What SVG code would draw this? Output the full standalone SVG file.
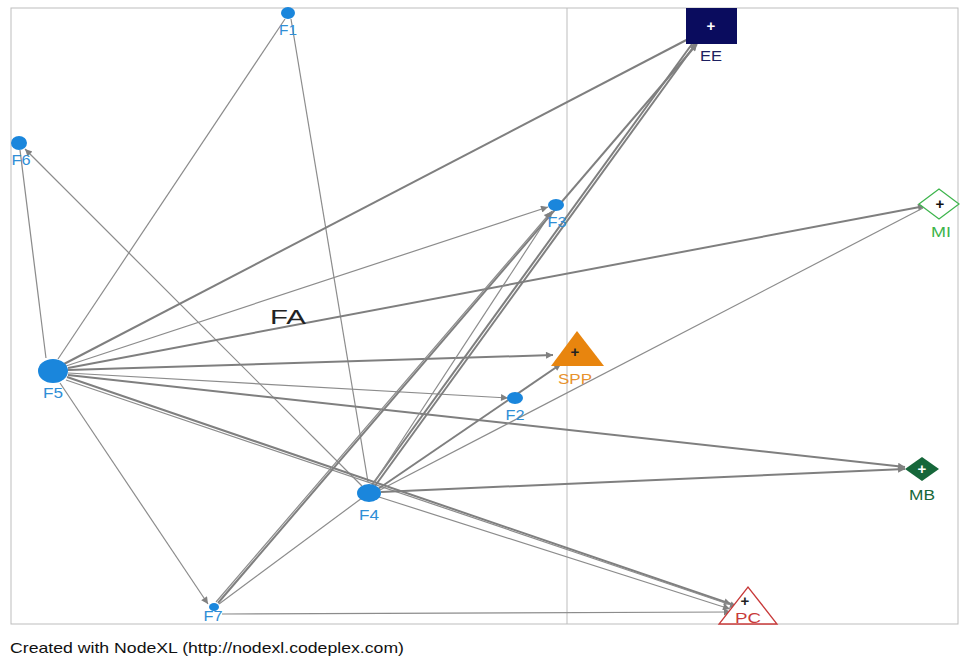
<svg xmlns="http://www.w3.org/2000/svg" width="960" height="657" viewBox="0 0 960 657">
  <style>
    .edge { stroke: #8c8c8c; stroke-width: 1.2; fill: none; }
    .thick { stroke-width: 2; stroke: #7f7f7f; }
    .arr { marker-end: url(#ah); }
    .lbl { font-family: "Liberation Sans", Arial, sans-serif; font-size: 15px; text-anchor: middle; }
    .blue { fill: #1a86dc; }
    .plus { font-family: "Liberation Sans", Arial, sans-serif; font-size: 15px; font-weight: bold; text-anchor: middle; }
  </style>
  <defs>
    <marker id="ah" viewBox="0 0 10 10" refX="10" refY="5" markerWidth="9" markerHeight="7" markerUnits="userSpaceOnUse" orient="auto">
      <path d="M0,0 L10,5 L0,10 z" fill="#808080"/>
    </marker>
  </defs>
  <rect x="0" y="0" width="960" height="657" fill="#ffffff"/>

  <!-- frame -->
  <rect x="11" y="8" width="947" height="616" fill="none" stroke="#bdbdbd" stroke-width="1"/>
  <line x1="567" y1="8" x2="567" y2="624" stroke="#bdbdbd" stroke-width="1"/>

  <g id="connectors">
    <!-- F1 edges -->
    <line class="edge" x1="285" y1="19" x2="58" y2="359"/>
    <line class="edge" x1="291" y1="19" x2="368" y2="482"/>
    <!-- F6 edges -->
    <line class="edge" x1="20" y1="150" x2="46" y2="358"/>
    <line class="edge arr" x1="362" y1="486" x2="25" y2="149"/>
    <!-- F5 edges -->
    <line class="edge thick arr" x1="64" y1="364" x2="694" y2="36"/>
    <line class="edge arr" x1="66" y1="366" x2="548" y2="207"/>
    <line class="edge thick arr" x1="68" y1="368" x2="925" y2="206"/>
    <line class="edge thick arr" x1="68" y1="370" x2="553" y2="355"/>
    <line class="edge arr" x1="68" y1="373" x2="508" y2="398"/>
    <line class="edge thick arr" x1="68" y1="375" x2="905" y2="467"/>
    <line class="edge thick arr" x1="67" y1="377" x2="731" y2="604"/>
    <line class="edge arr" x1="66" y1="380" x2="737" y2="607"/>
    <line class="edge arr" x1="60" y1="383" x2="208" y2="604"/>
    <!-- F4 edges -->
    <line class="edge thick arr" x1="375" y1="486" x2="697" y2="42"/>
    <line class="edge thick" x1="372" y1="485" x2="692" y2="44"/>
    <line class="edge arr" x1="372" y1="486" x2="552" y2="211"/>
    <line class="edge thick arr" x1="378" y1="489" x2="561" y2="364"/>
    <line class="edge" x1="378" y1="491" x2="923" y2="208"/>
    <line class="edge thick arr" x1="381" y1="492" x2="905" y2="469"/>
    <line class="edge arr" x1="379" y1="497" x2="730" y2="609"/>
    <!-- F7 edges -->
    <line class="edge thick arr" x1="218" y1="603" x2="697" y2="44"/>
    <line class="edge arr" x1="216" y1="602" x2="551" y2="212"/>
    <line class="edge" x1="219" y1="604" x2="362" y2="498"/>
    <line class="edge arr" x1="222" y1="614" x2="731" y2="612"/>
  </g>

  <g id="F1">
    <ellipse class="blue" cx="288" cy="13" rx="7" ry="6"/>
    <text class="lbl" x="288" y="35" fill="#2f8ed6" textLength="18" lengthAdjust="spacingAndGlyphs">F1</text>
  </g>
  <g id="F6">
    <ellipse class="blue" cx="19" cy="143" rx="8" ry="7"/>
    <text class="lbl" x="21" y="165" fill="#2f8ed6" textLength="19" lengthAdjust="spacingAndGlyphs">F6</text>
  </g>
  <g id="F3">
    <ellipse class="blue" cx="556" cy="205" rx="8" ry="6"/>
    <text class="lbl" x="557" y="227" fill="#2f8ed6" textLength="19" lengthAdjust="spacingAndGlyphs">F3</text>
  </g>
  <g id="F5">
    <ellipse class="blue" cx="53" cy="371" rx="15" ry="12"/>
    <text class="lbl" x="53" y="398" fill="#2f8ed6" textLength="20" lengthAdjust="spacingAndGlyphs">F5</text>
  </g>
  <g id="F2">
    <ellipse class="blue" cx="515" cy="398" rx="8" ry="6"/>
    <text class="lbl" x="515" y="420" fill="#2f8ed6" textLength="19" lengthAdjust="spacingAndGlyphs">F2</text>
  </g>
  <g id="F4">
    <ellipse class="blue" cx="369" cy="493" rx="12" ry="9"/>
    <text class="lbl" x="369" y="520" fill="#2f8ed6" textLength="20" lengthAdjust="spacingAndGlyphs">F4</text>
  </g>
  <g id="F7">
    <ellipse class="blue" cx="214" cy="607" rx="5" ry="4"/>
    <text class="lbl" x="213" y="621" fill="#2f8ed6" textLength="19" lengthAdjust="spacingAndGlyphs">F7</text>
  </g>

  <g id="EE">
    <rect x="686" y="8" width="51" height="36" fill="#0a0c5e"/>
    <text class="plus" x="711" y="31" fill="#ffffff">+</text>
    <text class="lbl" x="711" y="61" fill="#1d2060" textLength="22" lengthAdjust="spacingAndGlyphs">EE</text>
  </g>
  <g id="MI">
    <polygon points="919,204 939,189 959,204 939,219" fill="#ffffff" stroke="#3cb44b" stroke-width="1.2"/>
    <text class="plus" x="940" y="209" fill="#111111">+</text>
    <text class="lbl" x="941" y="237" fill="#3cb44b" textLength="20" lengthAdjust="spacingAndGlyphs">MI</text>
  </g>
  <g id="SPP">
    <polygon points="551,366 604,366 577,331" fill="#e8850e"/>
    <text class="plus" x="575" y="357" fill="#222222">+</text>
    <text class="lbl" x="575" y="384" fill="#e8922c" textLength="34" lengthAdjust="spacingAndGlyphs">SPP</text>
  </g>
  <g id="MB">
    <polygon points="905,469 922,457 939,469 922,481" fill="#16673a"/>
    <text class="plus" x="922" y="474" fill="#ffffff">+</text>
    <text class="lbl" x="922" y="500" fill="#16673a" textLength="26" lengthAdjust="spacingAndGlyphs">MB</text>
  </g>
  <g id="PC">
    <polygon points="719,624 777,624 748,587" fill="#ffffff" stroke="#c83a3a" stroke-width="1.3"/>
    <text class="plus" x="745" y="606" fill="#222222" font-size="13">+</text>
    <text class="lbl" x="748" y="623" fill="#c83a3a" textLength="26" lengthAdjust="spacingAndGlyphs">PC</text>
  </g>

  <text x="288" y="324" font-family="Liberation Sans, Arial, sans-serif" font-size="21" text-anchor="middle" fill="#222222" textLength="36" lengthAdjust="spacingAndGlyphs">FA</text>

  <text x="10" y="653" font-family="Liberation Sans, Arial, sans-serif" font-size="15" fill="#111111" textLength="394" lengthAdjust="spacingAndGlyphs">Created with NodeXL (http://nodexl.codeplex.com)</text>
</svg>
